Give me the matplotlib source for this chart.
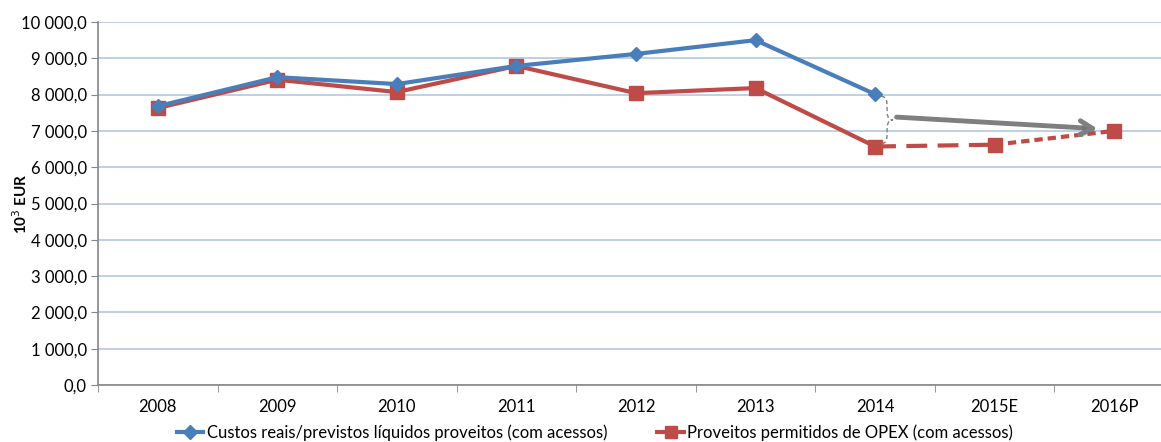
import matplotlib.pyplot as plt
import numpy as np
from matplotlib.lines import Line2D
from matplotlib.patches import FancyArrowPatch, PathPatch
from matplotlib.path import Path
import matplotlib.patheffects as pe
from matplotlib.ticker import FuncFormatter, FixedLocator

years = ["2008", "2009", "2010", "2011", "2012", "2013", "2014", "2015E", "2016P"]
custos = [7680, 8480, 8290, 8790, 9120, 9500, 8010]
proveitos = [7630, 8410, 8070, 8790, 8040, 8180, 6570, 6620, 7000]

label_custos = "Custos reais/previstos líquidos proveitos (com acessos)"
label_proveitos = "Proveitos permitidos de OPEX (com acessos)"

blue = "#4A7EBB"
red = "#BE4B48"
grid_blue = "#B9CDE5"
axis_grey = "#868686"

plt.rcParams["font.family"] = ["Lato", "DejaVu Sans"]

fig = plt.figure(figsize=(11.61, 4.42), dpi=100)
# axes extends a bit past the right edge, like the cropped original
ax = fig.add_axes([98 / 1161, 57 / 442, 1076 / 1161, 363 / 442])

x = np.arange(len(years))
xc = x[:len(custos)]

# red series: solid for actuals, long dash for estimate, short dash for forecast
ax.plot(x[:7], proveitos[:7], color=red, lw=3, zorder=3)
ax.plot(x[6:8], proveitos[6:8], color=red, lw=3, dashes=(5, 2.5), zorder=3)
ax.plot(x[7:9], proveitos[7:9], color=red, lw=3, dashes=(2, 1.2), zorder=3)
ax.plot(x, proveitos, ls="none", marker="s", ms=10, color=red, zorder=4)

ax.plot(xc, custos, color=blue, lw=3, marker="D", ms=7.5, zorder=5)

# dashed curly brace between the 2014 values
i = 6
top, bot = custos[i] - 60, proveitos[i] + 80
mid = (top + bot) / 2
x0, w = i + 0.05, 0.1
h = w / 2
d = (top - bot) * 0.12
verts = [(x0, top), (x0 + h, top), (x0 + h, top - d), (x0 + h, top - 2 * d),
         (x0 + h, mid + d), (x0 + h, mid), (x0 + w, mid),
         (x0 + h, mid), (x0 + h, mid - d), (x0 + h, bot + 2 * d),
         (x0 + h, bot + d), (x0 + h, bot), (x0, bot)]
codes = [Path.MOVETO] + [Path.CURVE4] * 12
ax.add_patch(PathPatch(Path(verts, codes), fill=False, ec="#7F7F7F",
                       lw=1, ls=(0, (3, 2)), zorder=6))

# grey arrow toward 2016P
arrow = FancyArrowPatch((i + 0.18, mid + 80), (len(years) - 1 - 0.14, proveitos[-1] + 60),
                        arrowstyle="->,head_length=9,head_width=5", lw=3.5,
                        color="#7F7F7F", zorder=6, shrinkA=0, shrinkB=0,
                        path_effects=[pe.SimplePatchShadow(offset=(1.5, -2), alpha=0.25),
                                      pe.Normal()])
ax.add_patch(arrow)

ax.set_xlim(-0.5, len(years) - 0.5)
ax.set_ylim(0, 10000)
ax.set_yticks(np.arange(0, 10001, 1000))
ax.yaxis.set_major_formatter(FuncFormatter(
    lambda v, _: f"{v:,.1f}".replace(",", " ").replace(".", ",")))
ax.set_xticks(x)
ax.set_xticklabels(years)
ax.xaxis.set_minor_locator(FixedLocator(np.arange(-0.5, len(years), 1)))
ax.tick_params(axis="x", which="major", length=0, pad=10, labelsize=12)
ax.tick_params(axis="x", which="minor", length=5, color=axis_grey)
ax.tick_params(axis="y", length=5, color=axis_grey, labelsize=12, pad=3)

ax.grid(axis="y", color=grid_blue, lw=1.3)
ax.set_axisbelow(True)
for s in ["top", "right"]:
    ax.spines[s].set_visible(False)
for s in ["left", "bottom"]:
    ax.spines[s].set_color(axis_grey)
    ax.spines[s].set_linewidth(1.2)

fig.text(0.018, (57 + 363 / 2) / 442, "10$^3$ EUR", rotation=90, fontsize=11,
         fontweight="bold", ha="center", va="center")

handles = [Line2D([], [], color=blue, lw=3, marker="D", ms=7),
           Line2D([], [], color=red, lw=3, marker="s", ms=9)]
fig.legend(handles, [label_custos, label_proveitos], loc="center",
           bbox_to_anchor=(595 / 1161, 1 - 433 / 442), ncol=2, frameon=False,
           fontsize=12, handlelength=1.6, handletextpad=0.2, columnspacing=3,
           borderpad=0)

fig.savefig("out.png", dpi=100)
